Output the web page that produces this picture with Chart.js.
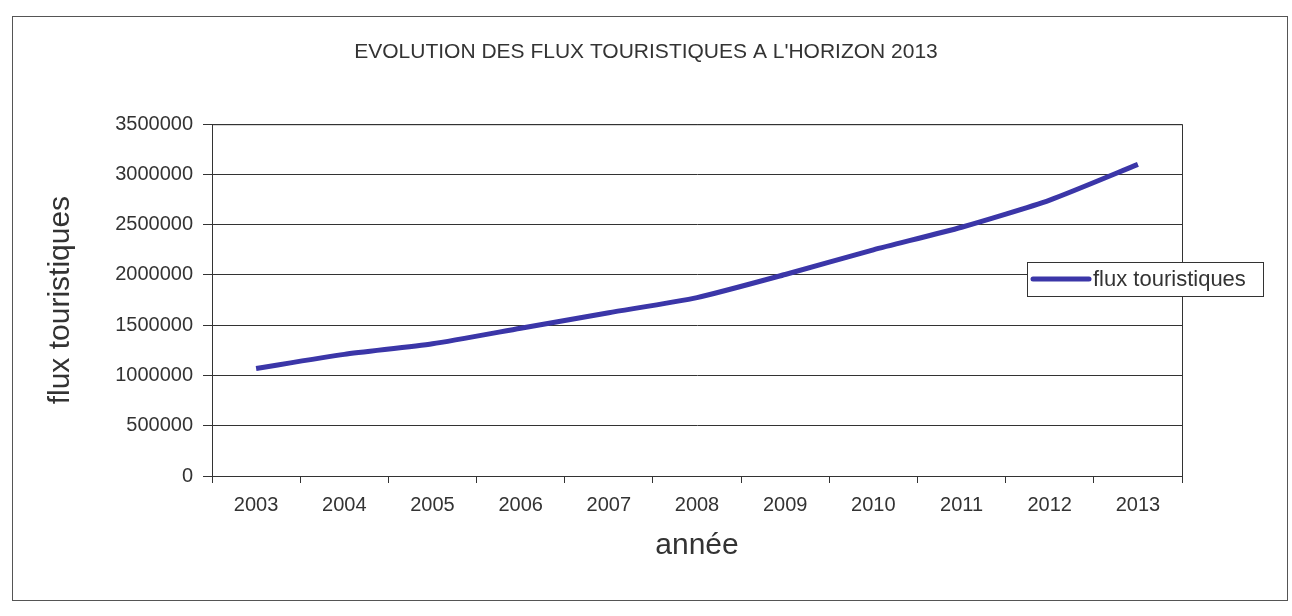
<!DOCTYPE html>
<html>
<head>
<meta charset="utf-8">
<script src="https://cdn.jsdelivr.net/npm/chart.js@4.4.0/dist/chart.umd.min.js"></script>
<style>
    html, body { margin: 0; padding: 0; background: #fff; }
    #wrap { position: relative; width: 1292px; height: 616px; }
    #frame {
        position: absolute; left: 12px; top: 16px; width: 1276px; height: 585px;
        border: 1px solid #555; box-sizing: border-box; pointer-events: none;
    }
</style>
</head>
<body>
<div id="wrap">
    <div id="frame"></div>
    <canvas id="fluxChart" width="1292" height="616"></canvas>
</div>
<script>
const years = ['2003', '2004', '2005', '2006', '2007', '2008', '2009', '2010', '2011', '2012', '2013'];
const fluxValues = [1070000, 1210000, 1315000, 1470000, 1625000, 1775000, 2005000, 2250000, 2475000, 2745000, 3100000];
const yTicks = [0, 500000, 1000000, 1500000, 2000000, 2500000, 3000000, 3500000];

const lineColor = '#3b36a8';
const inkColor = '#333333';
const fontFamily = '"Liberation Sans", Arial, sans-serif';

// plot frame + legend box drawn over the plot, like the Excel original
const framePlugin = {
    id: 'framePlugin',
    afterDraw(chart) {
        const ctx = chart.ctx;
        const a = chart.chartArea;
        ctx.save();
        ctx.strokeStyle = inkColor;
        ctx.lineWidth = 1;
        ctx.strokeRect(a.left + 0.5, a.top + 0.5, a.right - a.left, a.bottom - a.top);

        const ds = chart.data.datasets[0];
        const box = { x: 1027, y: 262, w: 236, h: 34 };
        ctx.fillStyle = '#fff';
        ctx.fillRect(box.x, box.y, box.w, box.h);
        ctx.strokeRect(box.x + 0.5, box.y + 0.5, box.w, box.h);
        ctx.strokeStyle = ds.borderColor;
        ctx.lineWidth = 5;
        ctx.lineCap = 'round';
        ctx.beginPath();
        ctx.moveTo(box.x + 6, box.y + 17);
        ctx.lineTo(box.x + 62, box.y + 17);
        ctx.stroke();
        ctx.fillStyle = inkColor;
        ctx.font = '22px ' + fontFamily;
        ctx.textBaseline = 'middle';
        ctx.fillText(ds.label, box.x + 66, box.y + 18);
        ctx.restore();
    }
};

new Chart(document.getElementById('fluxChart'), {
    type: 'line',
    data: {
        labels: years,
        datasets: [{
            label: 'flux touristiques',
            data: fluxValues,
            borderColor: lineColor,
            backgroundColor: lineColor,
            borderWidth: 5,
            pointRadius: 0,
            tension: 0.2
        }]
    },
    options: {
        responsive: false,
        animation: false,
        layout: { padding: 0 },
        plugins: {
            legend: { display: false },
            tooltip: { enabled: false },
            title: {
                display: true,
                text: "EVOLUTION DES FLUX TOURISTIQUES A L'HORIZON 2013",
                color: inkColor,
                font: { family: fontFamily, size: 21, weight: 'normal' },
                padding: { top: 40, bottom: 59 }
            }
        },
        scales: {
            x: {
                offset: true,
                grid: {
                    offset: true,
                    drawOnChartArea: false,
                    drawTicks: true,
                    tickLength: 7,
                    color: inkColor
                },
                border: { color: inkColor },
                ticks: {
                    color: inkColor,
                    padding: 10,
                    maxRotation: 0,
                    font: { family: fontFamily, size: 20 }
                },
                title: {
                    display: true,
                    text: 'année',
                    color: inkColor,
                    font: { family: fontFamily, size: 30 },
                    padding: { top: 4, bottom: 52 }
                },
                afterFit(scale) { scale.height = 140; }
            },
            y: {
                min: 0,
                max: 3500000,
                afterBuildTicks(scale) { scale.ticks = yTicks.map(v => ({ value: v })); },
                grid: {
                    color: inkColor,
                    tickLength: 9
                },
                border: { color: inkColor },
                ticks: {
                    color: inkColor,
                    padding: 10,
                    font: { family: fontFamily, size: 20 },
                    callback: v => String(v)
                },
                title: {
                    display: true,
                    text: 'flux touristiques',
                    color: inkColor,
                    font: { family: fontFamily, size: 30 },
                    padding: { top: 43, bottom: 0 }
                },
                afterFit(scale) { scale.width = 212; }
            },
            // empty right-hand axis, only reserves the room the legend sits in
            yRight: {
                position: 'right',
                min: 0,
                max: 3500000,
                grid: { display: false, drawTicks: false },
                border: { display: false },
                ticks: { display: false },
                afterFit(scale) { scale.width = 110; }
            }
        }
    },
    plugins: [framePlugin]
});
</script>
</body>
</html>
